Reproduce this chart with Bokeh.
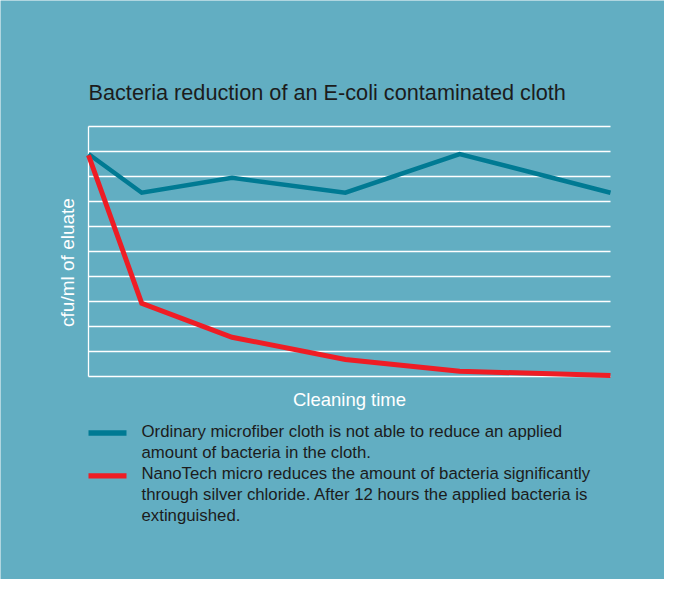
from bokeh.plotting import figure
from bokeh.models import Range1d
from bokeh.core.properties import value
from bokeh.embed import file_html
from bokeh.resources import INLINE

# ---- data ----
title_text = "Bacteria reduction of an E-coli contaminated cloth"
x_label = "Cleaning time"
y_label = "cfu/ml of eluate"
time_points = [0, 1.02, 2.75, 4.92, 7.11, 10]
ordinary = [8.9, 7.35, 7.95, 7.35, 8.9, 7.35]
nanotech = [8.85, 2.93, 1.57, 0.68, 0.21, 0.04]
grid_levels = list(range(0, 11))
legend_ordinary = ["Ordinary microfiber cloth is not able to reduce an applied",
                   "amount of bacteria in the cloth."]
legend_nanotech = ["NanoTech micro reduces the amount of bacteria significantly",
                   "through silver chloride. After 12 hours the applied bacteria is",
                   "extinguished."]

BG = "#62AEC2"
BLUE = "#007A93"
RED = "#EE1D25"
DARK = "#1C1C1C"
FONT = "Liberation Sans"

W, H = 664, 579
X0, XS = 88.0, 52.2     # canvas px of x=0, px per unit
Y0, YS = 376.0, 25.0    # canvas px of y=0, px per unit


def xd(px):
    return (px - X0) / XS


def yd(py):
    return (Y0 - py) / YS


p = figure(width=W, height=H, output_backend="svg", toolbar_location=None,
           x_range=Range1d(xd(0), xd(W)), y_range=Range1d(yd(H), yd(0)),
           x_axis_location=None, y_axis_location=None,
           min_border=0, background_fill_color=BG, border_fill_color=BG,
           outline_line_color=None)
p.title.visible = False
p.grid.visible = False

# grid
n = len(grid_levels)
p.segment(x0=[0] * n, x1=[10] * n, y0=grid_levels, y1=grid_levels,
          line_color="white", line_width=1.3)
p.segment(x0=[0], x1=[0], y0=[grid_levels[0]], y1=[grid_levels[-1]],
          line_color="white", line_width=1.3)

# series
p.line(time_points, ordinary, line_color=BLUE, line_width=4.5, line_join="miter")
p.line(time_points, nanotech, line_color=RED, line_width=5, line_join="miter")

# texts
p.text(x=[xd(88)], y=[yd(92)], text=[title_text], text_font=value(FONT),
       text_font_size="21.7px", text_color=DARK, text_baseline="alphabetic")
p.text(x=[xd(67)], y=[yd(262)], text=[y_label], text_font=value(FONT), angle=1.5707963,
       text_font_size="19px", text_color="white",
       text_align="center", text_baseline="middle")
p.text(x=[xd(349)], y=[yd(399)], text=[x_label], text_font=value(FONT),
       text_font_size="18.5px", text_color="white",
       text_align="center", text_baseline="middle")

# legend
sw_y = [yd(432.5), yd(475.3)]
p.segment(x0=[xd(88)] * 2, x1=[xd(126)] * 2, y0=sw_y, y1=sw_y,
          line_color=[BLUE, RED], line_width=5.3, line_cap="butt")
lines = legend_ordinary + legend_nanotech
p.text(x=[xd(141)] * len(lines), y=[yd(430.5 + 21.2 * i) for i in range(len(lines))],
       text=lines, text_font=value(FONT), text_font_size="16.8px",
       text_color=DARK, text_baseline="alphabetic")

open("out.html", "w").write(file_html(p, INLINE))
